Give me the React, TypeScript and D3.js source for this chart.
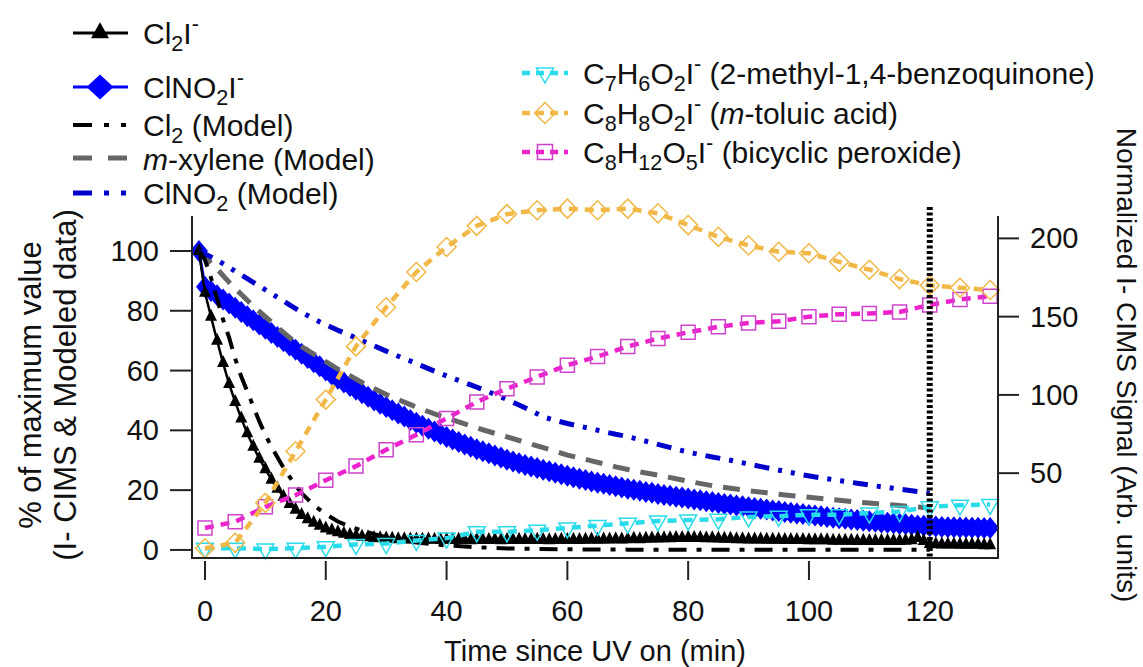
import React from "react";
import * as d3 from "d3";

// ---------- DATA ----------
// 1-min I- CIMS time grid (min since UV on)
const cimsTime = d3.range(-1, 131);
const cl2I = [
  100, 86, 78, 70, 62.5, 55.5, 49.5, 44, 39, 34.5, 30.5, 27, 23.5, 20.5, 17.8, 15.4, 13.4, 11.7, 10.3, 9.1, 8.1,
  7.2, 6.5, 5.9, 5.4, 5.0, 4.7, 4.4, 4.2, 4.0, 3.9, 3.8, 3.7, 3.6, 3.6, 3.5, 3.5, 3.4, 3.5, 3.4, 3.3, 3.4,
  3.3, 3.4, 3.3, 3.2, 3.4, 3.3, 3.3, 3.4, 3.2, 3.3,
  3.3, 3.4, 3.3, 3.3, 3.4, 3.3, 3.2, 3.3, 3.4, 3.3,
  3.4, 3.3, 3.4, 3.5, 3.4, 3.5, 3.5, 3.6, 3.5, 3.6,
  3.7, 3.6, 3.7, 3.8, 3.8, 3.9, 3.9, 4.0, 4.0, 4.1,
  4.0, 4.0, 3.9, 3.9, 3.8, 3.7, 3.7, 3.6, 3.6, 3.5,
  3.5, 3.5, 3.4, 3.4, 3.4, 3.3, 3.3, 3.3, 3.3, 3.2,
  3.2, 3.2, 3.2, 3.1, 3.1, 3.1, 3.1, 3.0, 3.1, 3.0,
  3.0, 3.0, 3.0, 3.0, 3.0, 3.1, 3.2, 4.0, 3.0, 2.0,
  1.9, 1.8, 1.8, 1.8, 1.7, 1.7, 1.7, 1.7, 1.6, 1.6,
];
const clno2I = [
  100, 88.0, 86.6, 85.2, 83.8, 82.4, 81.0, 79.6, 78.2, 76.8, 75.4,
  74.0, 72.6, 71.2, 69.8, 68.4, 67.0, 65.6, 64.2, 62.8, 61.4,
  60.0, 58.6, 57.3, 56.0, 54.8, 53.6, 52.4, 51.2, 50.0, 48.9,
  47.8, 46.7, 45.6, 44.6, 43.5, 42.5, 41.5, 40.5, 39.6, 38.7,
  37.8, 36.9, 36.1, 35.3, 34.5, 33.7, 33.0, 32.3, 31.6, 30.9,
  30.2, 29.6, 29.0, 28.4, 27.9, 27.4, 26.8, 26.3, 25.8, 25.3,
  24.8, 24.3, 23.8, 23.4, 22.9, 22.5, 22.1, 21.7, 21.3, 20.9,
  20.5, 20.1, 19.8, 19.4, 19.1, 18.7, 18.4, 18.1, 17.8, 17.5,
  17.2, 16.9, 16.6, 16.3, 16.0, 15.7, 15.4, 15.2, 14.9, 14.6,
  14.3, 14.0, 13.8, 13.5, 13.2, 13.0, 12.7, 12.4, 12.2, 12.0,
  11.7, 11.5, 11.3, 11.0, 10.8, 10.6, 10.4, 10.2, 10.0, 9.8,
  9.6, 9.4, 9.2, 9.1, 8.9, 8.7, 8.6, 8.4, 8.2, 8.1,
  7.9, 7.8, 7.7, 7.6, 7.6, 7.5, 7.5, 7.4, 7.4, 7.3, 7.3,
];

const cl2ModelTime = [-1, 0, 1, 2, 3, 4, 5, 6, 7, 8, 9, 10, 11, 12, 13, 14, 15, 16, 17, 18, 19, 20, 22, 24, 26, 28, 30, 35, 40, 45, 50, 60, 70, 80, 90, 100, 110, 120];
const cl2Model = [100, 97, 91, 84, 77, 71, 64, 58, 53, 48, 43, 38.5, 34.5, 31, 27.5, 24.5, 21.5, 19, 17, 15, 13.5, 12, 9.5, 7.8, 6.5, 5.3, 4.3, 2.5, 1.5, 0.9, 0.5, 0.2, 0.1, 0.1, 0.1, 0.1, 0.1, 0.1];

const xyleneModelTime = [-1, 0, 2, 4, 6, 8, 10, 12, 14, 16, 18, 20, 22, 24, 26, 28, 30, 32, 34, 36, 38, 40, 42, 44, 46, 48, 50, 52, 54, 56, 58, 60, 62, 64, 66, 68, 70, 72, 75, 78, 81, 84, 87, 90, 93, 96, 99, 102, 105, 108, 111, 114, 117, 120];
const xyleneModel = [100, 98, 94, 89.5, 85.5, 81.5, 78, 74.5, 71, 68, 65.5, 63, 60.5, 58.3, 56, 54, 52, 50.3, 48.6, 47, 45.5, 44.2, 42.8, 41.5, 40.2, 39, 37.8, 36.6, 35.4, 34.2, 33, 31.7, 30.8, 29.8, 28.8, 27.8, 26.9, 26.1, 25, 23.8, 22.6, 21.5, 20.6, 19.8, 19.1, 18.4, 17.8, 17.2, 16.6, 16, 15.5, 15, 14.5, 14];

const clno2ModelTime = [-1, 0, 2, 4, 6, 8, 10, 12, 14, 16, 18, 20, 22, 24, 26, 28, 30, 32, 34, 36, 38, 40, 42, 44, 46, 48, 50, 52, 54, 56, 58, 60, 62, 64, 66, 68, 70, 72, 75, 78, 81, 84, 87, 90, 93, 96, 99, 102, 105, 108, 111, 114, 117, 120];
const clno2Model = [100, 99, 97, 94.5, 92, 89.5, 87, 84.5, 82, 79.5, 77.3, 75.3, 73.5, 71.8, 70, 68.3, 66.5, 64.8, 63.2, 61.5, 59.8, 58.2, 56.7, 55.2, 53.7, 52, 50.3, 48.5, 46.6, 44.5, 43.3, 42.3, 41.4, 40.5, 39.6, 38.7, 37.9, 36.9, 35.3, 33.7, 32.3, 31.1, 30, 28.7, 27.5, 26.3, 25.1, 24.1, 23.2, 22.3, 21.4, 20.6, 19.8, 19];

// 5-min product signals (right axis, arb. units)
const productTime = [0, 5, 10, 15, 20, 25, 30, 35, 40, 45, 50, 55, 60, 65, 70, 75, 80, 85, 90, 95, 100, 105, 110, 115, 120, 125, 130];
const benzoquinone = [2, 2, 1.5, 2, 3, 4.5, 5, 7, 8.5, 12.5, 12.5, 13.5, 15, 16.5, 18, 19.5, 20, 20.5, 22, 22.5, 23.5, 23.5, 24.5, 25.5, 28.5, 29.5, 30];
const toluicAcid = [2, 5.5, 31, 64, 97, 131, 156, 178.5, 194.5, 208, 215.5, 218, 219, 218, 219, 216, 208.5, 201, 195.5, 191.5, 190.5, 185, 180, 174, 170, 168.5, 167];
const peroxide = [15, 19, 28.5, 36, 45.5, 54.5, 65, 74.5, 85, 95.5, 104, 111.5, 119, 124.5, 131, 136, 140, 143.5, 146, 147, 150, 151.5, 152, 153, 157.5, 161, 163];

const xTicks = [0, 20, 40, 60, 80, 100, 120];
const yLeftTicks = [0, 20, 40, 60, 80, 100];
const yRightTicks = [50, 100, 150, 200];
const uvMarkerTime = 120;

// ---------- STYLE ----------
const FONT = "'Liberation Sans', Arial, Helvetica, sans-serif";
const FS = 29;
const FS_LEG = 30;
const C_BLUE = "#0000FF";
const C_BLUE_M = "#0000CC";
const C_GRAY = "#666666";
const C_CYAN = "#2ADBEA";
const C_ORANGE = "#F2B847";
const C_MAG = "#EE22CC";
const C_MAG_MK = "#CC44CC";

type Seg = { t: string; sub?: boolean; sup?: boolean; it?: boolean };

function Rich({ x, y, segs, size = FS_LEG, anchor = "start" }: { x: number; y: number; segs: Seg[]; size?: number; anchor?: string }) {
  let cur = 0;
  const spans = segs.map((s, i) => {
    const target = s.sub ? size * 0.23 : s.sup ? -size * 0.42 : 0;
    const dy = target - cur;
    cur = target;
    return (
      <tspan key={i} dy={dy} fontSize={s.sub || s.sup ? size * 0.72 : size} fontStyle={s.it ? "italic" : "normal"}>
        {s.t}
      </tspan>
    );
  });
  return (
    <text x={x} y={y} fontFamily={FONT} fontSize={size} textAnchor={anchor} fill="#111">
      {spans}
    </text>
  );
}

const triUp = (w: number, h: number) => `M0,${(-h * 2) / 3}L${w / 2},${h / 3}L${-w / 2},${h / 3}Z`;
const triDown = (w: number, h: number) => `M0,${(h * 2) / 3}L${w / 2},${-h / 3}L${-w / 2},${-h / 3}Z`;
const diamond = (w: number, h: number) => `M0,${-h / 2}L${w / 2},0L0,${h / 2}L${-w / 2},0Z`;
const square = (s: number) => `M${-s / 2},${-s / 2}h${s}v${s}h${-s}Z`;

export default function App() {
  const x = d3.scaleLinear().domain([-2.15, 131.3]).range([192, 998]);
  const yL = d3.scaleLinear().domain([-2.7, 111.7]).range([558, 216]);
  const yR = d3.scaleLinear().domain([-4.2, 214.3]).range([558, 216]);

  const lineL = (ts: number[], vs: number[]) =>
    d3.line<number>().x((_, i) => x(ts[i])).y((v) => yL(v))(vs) as string;
  const lineR = (vs: number[]) =>
    d3.line<number>().x((_, i) => x(productTime[i])).y((v) => yR(v))(vs) as string;

  const plotLeft = x.range()[0];
  const plotRight = x.range()[1];
  const plotBottom = yL.range()[0];
  const plotTop = yL.range()[1];

  const leftLegend: { segs: Seg[]; y: number; ty: number }[] = [
    { segs: [{ t: "Cl" }, { t: "2", sub: true }, { t: "I" }, { t: "-", sup: true }], y: 33, ty: 44 },
    { segs: [{ t: "ClNO" }, { t: "2", sub: true }, { t: "I" }, { t: "-", sup: true }], y: 87, ty: 98 },
    { segs: [{ t: "Cl" }, { t: "2", sub: true }, { t: " (Model)" }], y: 125, ty: 136 },
    { segs: [{ t: "m", it: true }, { t: "-xylene (Model)" }], y: 158, ty: 170 },
    { segs: [{ t: "ClNO" }, { t: "2", sub: true }, { t: " (Model)" }], y: 193, ty: 204 },
  ];
  const rightLegend: { segs: Seg[]; y: number; color: string; mk: string; mkColor: string }[] = [
    {
      segs: [{ t: "C" }, { t: "7", sub: true }, { t: "H" }, { t: "6", sub: true }, { t: "O" }, { t: "2", sub: true }, { t: "I" }, { t: "-", sup: true }, { t: " (2-methyl-1,4-benzoquinone)" }],
      y: 73, color: C_CYAN, mk: triDown(17, 15), mkColor: C_CYAN,
    },
    {
      segs: [{ t: "C" }, { t: "8", sub: true }, { t: "H" }, { t: "8", sub: true }, { t: "O" }, { t: "2", sub: true }, { t: "I" }, { t: "-", sup: true }, { t: " (" }, { t: "m", it: true }, { t: "-toluic acid)" }],
      y: 113, color: C_ORANGE, mk: diamond(21, 21), mkColor: C_ORANGE,
    },
    {
      segs: [{ t: "C" }, { t: "8", sub: true }, { t: "H" }, { t: "12", sub: true }, { t: "O" }, { t: "5", sub: true }, { t: "I" }, { t: "-", sup: true }, { t: " (bicyclic peroxide)" }],
      y: 152, color: C_MAG, mk: square(15), mkColor: C_MAG_MK,
    },
  ];

  return (
    <div style={{ position: "absolute", left: 0, top: 0, width: 1143, height: 667, background: "#fff" }}>
      <svg width={1143} height={667} style={{ display: "block" }}>
        <rect width={1143} height={667} fill="#fff" />

        {/* ----- I- CIMS data ----- */}
        <path d={lineL(cimsTime, clno2I)} fill="none" stroke={C_BLUE} strokeWidth={3} />
        {clno2I.map((v, i) => (
          <path key={"b" + i} d={diamond(18, 22)} transform={`translate(${x(cimsTime[i])},${yL(v)})`} fill={C_BLUE} />
        ))}
        <path d={lineL(cimsTime, cl2I)} fill="none" stroke="#000" strokeWidth={2.5} />
        {cl2I.map((v, i) => (
          <path key={"k" + i} d={triUp(12, 12)} transform={`translate(${x(cimsTime[i])},${yL(v)})`} fill="#000" />
        ))}

        {/* ----- Model ----- */}
        <path d={lineL(xyleneModelTime, xyleneModel)} fill="none" stroke={C_GRAY} strokeWidth={5} strokeDasharray="17,11" />
        <path d={lineL(clno2ModelTime, clno2Model)} fill="none" stroke={C_BLUE_M} strokeWidth={5} strokeDasharray="15,9,4,9,4,9" />
        <path d={lineL(cl2ModelTime, cl2Model)} fill="none" stroke="#000" strokeWidth={4} strokeDasharray="18,10,5,10" />

        {/* ----- Products (right axis) ----- */}
        <path d={lineR(benzoquinone)} fill="none" stroke={C_CYAN} strokeWidth={4.5} strokeDasharray="9,7" />
        {benzoquinone.map((v, i) => (
          <path key={"c" + i} d={triDown(17, 15)} transform={`translate(${x(productTime[i])},${yR(v)})`} fill="none" stroke={C_CYAN} strokeWidth={1.5} />
        ))}
        <path d={lineR(peroxide)} fill="none" stroke={C_MAG} strokeWidth={4.5} strokeDasharray="9,7" />
        {peroxide.map((v, i) => (
          <path key={"m" + i} d={square(14)} transform={`translate(${x(productTime[i])},${yR(v)})`} fill="none" stroke={C_MAG_MK} strokeWidth={1.5} />
        ))}
        <path d={lineR(toluicAcid)} fill="none" stroke={C_ORANGE} strokeWidth={4.5} strokeDasharray="9,7" />
        {toluicAcid.map((v, i) => (
          <path key={"o" + i} d={diamond(19, 19)} transform={`translate(${x(productTime[i])},${yR(v)})`} fill="none" stroke={C_ORANGE} strokeWidth={1.5} />
        ))}

        {/* UV marker */}
        <line x1={x(uvMarkerTime)} x2={x(uvMarkerTime)} y1={207} y2={plotBottom} stroke="#000" strokeWidth={6} strokeDasharray="3,2.5" />

        {/* ----- Axes ----- */}
        <g stroke="#222" strokeWidth={2}>
          <line x1={plotLeft} x2={plotLeft} y1={plotTop} y2={plotBottom + 1} />
          <line x1={plotRight} x2={plotRight} y1={plotTop} y2={plotBottom + 1} />
          <line x1={plotLeft} x2={plotRight} y1={plotBottom} y2={plotBottom} />
          {yLeftTicks.map((t) => (
            <line key={"yl" + t} x1={plotLeft - 22} x2={plotLeft} y1={yL(t)} y2={yL(t)} />
          ))}
          {yRightTicks.map((t) => (
            <line key={"yr" + t} x1={plotRight} x2={plotRight + 21} y1={yR(t)} y2={yR(t)} />
          ))}
          {xTicks.map((t) => (
            <line key={"xt" + t} x1={x(t)} x2={x(t)} y1={plotBottom + 3} y2={plotBottom + 22} />
          ))}
        </g>
        <g fontFamily={FONT} fontSize={FS} fill="#111">
          {yLeftTicks.map((t) => (
            <text key={"yll" + t} x={plotLeft - 33} y={yL(t) + 10} textAnchor="end">{t}</text>
          ))}
          {yRightTicks.map((t) => (
            <text key={"yrl" + t} x={plotRight + 32} y={yR(t) + 10} textAnchor="start">{t}</text>
          ))}
          {xTicks.map((t) => (
            <text key={"xtl" + t} x={x(t)} y={621} textAnchor="middle">{t}</text>
          ))}
          <text x={(plotLeft + plotRight) / 2} y={661} textAnchor="middle">Time since UV on (min)</text>
          <text transform={`translate(41,${(plotTop + plotBottom) / 2 - 2}) rotate(-90)`} textAnchor="middle" fontSize={31}>% of maximum value</text>
          <text transform={`translate(76,${(plotTop + plotBottom) / 2 - 2}) rotate(-90)`} textAnchor="middle" fontSize={31}>(I- CIMS &amp; Modeled data)</text>
          <text transform={`translate(1117,365) rotate(90)`} textAnchor="middle" fontSize={28}>Normalized I- CIMS Signal (Arb. units)</text>
        </g>

        {/* ----- Left legend ----- */}
        <g>
          <line x1={73} x2={128} y1={33} y2={33} stroke="#000" strokeWidth={3} />
          <path d={triUp(18, 16)} transform="translate(100,33)" fill="#000" />
          <line x1={73} x2={128} y1={87} y2={87} stroke={C_BLUE} strokeWidth={3} />
          <path d={diamond(27, 25)} transform="translate(100,87)" fill={C_BLUE} />
          <line x1={73} x2={128} y1={125} y2={125} stroke="#000" strokeWidth={4} strokeDasharray="19,12,5,12,5,12" />
          <line x1={73} x2={128} y1={158} y2={158} stroke={C_GRAY} strokeWidth={5} strokeDasharray="19,16" />
          <line x1={73} x2={128} y1={193} y2={193} stroke={C_BLUE_M} strokeWidth={5} strokeDasharray="19,12,5,12,5,12" />
          {leftLegend.map((l, i) => (
            <Rich key={"ll" + i} x={143} y={l.ty} segs={l.segs} />
          ))}
        </g>

        {/* ----- Right legend ----- */}
        <g>
          {rightLegend.map((l, i) => (
            <g key={"rl" + i}>
              <line x1={522} x2={568} y1={l.y} y2={l.y} stroke={l.color} strokeWidth={4.5} strokeDasharray="8,6" />
              <path d={l.mk} transform={`translate(545,${l.y})`} fill="none" stroke={l.mkColor} strokeWidth={1.5} />
              <Rich x={583} y={l.y + 11} segs={l.segs} />
            </g>
          ))}
        </g>
      </svg>
    </div>
  );
}
